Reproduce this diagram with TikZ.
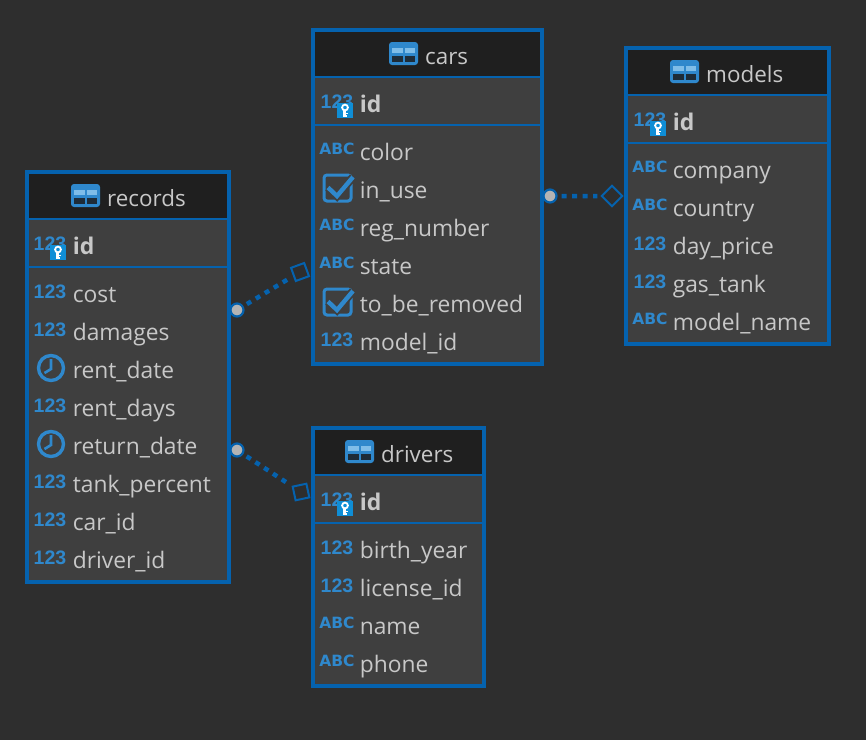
\documentclass[tikz,border=0pt]{standalone}
\usepackage{fontspec}
\setmainfont{Open Sans}
\newfontfamily\numfont{Liberation Sans}
\newfontfamily\abcfont{DejaVu Sans}
\definecolor{bgc}{HTML}{2E2E2E}
\definecolor{cellc}{HTML}{3F3F3F}
\definecolor{headc}{HTML}{1F1F1F}
\definecolor{edgec}{HTML}{0562AE}
\definecolor{txtc}{HTML}{C8C8C8}
\definecolor{iconc}{HTML}{2F88CC}
\definecolor{lightc}{HTML}{7FBDE8}
\definecolor{darkc}{HTML}{1E2C38}
\definecolor{keyc}{HTML}{0F8ED6}
\definecolor{dotc}{HTML}{B4B4B4}
\tikzset{
  x=1pt,y=-1pt,
  tablebox/.style={draw=edgec,line width=3.6pt,fill=cellc,inner sep=0pt,outer sep=0pt},
  divider/.style={draw=edgec,line width=2pt},
  coltext/.style={anchor=base west,inner sep=0pt,text=txtc,font=\fontsize{22.8}{24}\selectfont},
  titletext/.style={anchor=base west,inner sep=0pt,text=txtc,font=\fontsize{22.4}{24}\selectfont},
  keytext/.style={coltext,font=\fontsize{23}{24}\selectfont\bfseries},
  numicon/.style={anchor=center,inner sep=0pt,text=iconc,font=\fontsize{19.5}{20}\numfont\bfseries},
  abcicon/.style={anchor=center,inner sep=0pt,text=iconc,font=\fontsize{15.5}{16}\abcfont\bfseries},
  startdot/.style={circle,draw=edgec,fill=dotc,line width=2.2pt,minimum size=13pt,inner sep=0pt,outer sep=0pt},
  endsquare/.style={rectangle,draw=edgec,line width=2pt,minimum size=14pt,inner sep=0pt,outer sep=1pt},
  enddiamond/.style={rectangle,draw=edgec,line width=2pt,minimum size=14.5pt,inner sep=0pt,outer sep=1pt,rotate=45},
  rel/.style={draw=edgec,line width=4.5pt,dash pattern=on 5pt off 5.5pt,shorten <=5pt,shorten >=3pt},
  tableglyph/.pic={
    \fill[iconc,rounded corners=3pt] (0,-11.5) rectangle (29,11.5);
    \fill[lightc] (3,-6) rectangle (14.2,-0.5);
    \fill[lightc] (15.8,-6) rectangle (26,-0.5);
    \fill[darkc] (3,2) rectangle (14.2,8);
    \fill[darkc] (15.8,2) rectangle (26,8);
  },
  clockglyph/.pic={
    \draw[iconc,line width=3.4pt] (17,-2) circle (12.5);
    \draw[iconc,line width=2.6pt] (17,-11) -- (17,-1) -- (10.5,3);
  },
  checkglyph/.pic={
    \draw[iconc,line width=3pt,rounded corners=3pt] (3,-15) rectangle (30,11);
    \draw[cellc,line width=8pt] (7,-2.5) -- (16,6) -- (32,-13);
    \draw[iconc,line width=4.4pt] (7,-2.5) -- (16,6) -- (32,-13);
  },
  keyglyph/.pic={
    \fill[keyc] (16,-1) rectangle (32,14);
    \draw[white,line width=1.8pt] (24,3.5) circle (2.9);
    \draw[white,line width=2.2pt] (23.4,6) -- (23.4,13);
    \draw[white,line width=1.2pt] (24,9.5) -- (26.5,9.5) (24,12) -- (26,12);
  },
}
\newcommand{\numrow}[4]{%
  \node[numicon] (#1-#3-icon) at (#2+16,#3-2.5) {123};
  \node[coltext] (#1-#3) at (#2+38.6,#3+8) {#4};}
\newcommand{\abcrow}[4]{%
  \node[abcicon] (#1-#3-icon) at (#2+16,#3-3.5) {ABC};
  \node[coltext] (#1-#3) at (#2+38.6,#3+8) {#4};}
\newcommand{\clockrow}[4]{%
  \pic at (#2,#3) {clockglyph};
  \node[coltext] (#1-#3) at (#2+38.6,#3+8) {#4};}
\newcommand{\checkrow}[4]{%
  \pic at (#2,#3) {checkglyph};
  \node[coltext] (#1-#3) at (#2+38.6,#3+8) {#4};}
\newcommand{\idrow}[3]{%
  \node[numicon] (#1-#3-icon) at (#2+16,#3-2.5) {123};
  \pic at (#2,#3) {keyglyph};
  \node[keytext] (#1-#3) at (#2+38.6,#3+8) {id};}
\newcommand{\tableframe}[9]{%
  \node[tablebox,minimum width=#3-#2,minimum height=#5-#4] (#1) at ({(#2+#3)/2},{(#4+#5)/2}) {};
  \fill[headc] (#2+1.7,#4+1.7) rectangle (#3-1.7,#6);
  \draw[divider] (#2,#6) -- (#3,#6);
  \draw[divider] (#2,#7) -- (#3,#7);
  \pic at (#8,{(#4+#6)/2}) {tableglyph};
  \node[titletext] (#1-title) at (#8+36,{(#4+#6)/2+10.5}) {#9};}
\begin{document}
\begin{tikzpicture}
\fill[bgc] (0,0) rectangle (866,740);
\useasboundingbox (0,0) rectangle (866,740);

\tableframe{records}{27}{229}{172}{582}{219}{267}{71}{records}
\idrow{records}{34}{246}
\numrow{records}{34}{294}{cost}
\numrow{records}{34}{332}{damages}
\clockrow{records}{34}{370}{rent\_date}
\numrow{records}{34}{408}{rent\_days}
\clockrow{records}{34}{446}{return\_date}
\numrow{records}{34}{484}{tank\_percent}
\numrow{records}{34}{522}{car\_id}
\numrow{records}{34}{560}{driver\_id}

\tableframe{cars}{313}{542}{30}{364}{77}{125}{389}{cars}
\idrow{cars}{321}{104}
\abcrow{cars}{321}{152}{color}
\checkrow{cars}{321}{190}{in\_use}
\abcrow{cars}{321}{228}{reg\_number}
\abcrow{cars}{321}{266}{state}
\checkrow{cars}{321}{304}{to\_be\_removed}
\numrow{cars}{321}{342}{model\_id}

\tableframe{models}{626}{829}{48}{344}{95}{143}{670}{models}
\idrow{models}{634}{122}
\abcrow{models}{634}{170}{company}
\abcrow{models}{634}{208}{country}
\numrow{models}{634}{246}{day\_price}
\numrow{models}{634}{284}{gas\_tank}
\abcrow{models}{634}{322}{model\_name}

\tableframe{drivers}{313}{484}{428}{686}{475}{523}{345}{drivers}
\idrow{drivers}{321}{502}
\numrow{drivers}{321}{550}{birth\_year}
\numrow{drivers}{321}{588}{license\_id}
\abcrow{drivers}{321}{626}{name}
\abcrow{drivers}{321}{664}{phone}

\node[startdot] (d1) at (237,310) {};
\node[endsquare,rotate=20] (s1) at (300,272) {};
\draw[rel] (d1) -- (s1);
\node[startdot] (d2) at (237,450) {};
\node[endsquare,rotate=12] (s2) at (301,492) {};
\draw[rel] (d2) -- (s2);
\node[startdot] (d3) at (550,196) {};
\node[enddiamond] (s3) at (612,196) {};
\draw[rel] (d3) -- (s3);
\end{tikzpicture}
\end{document}
